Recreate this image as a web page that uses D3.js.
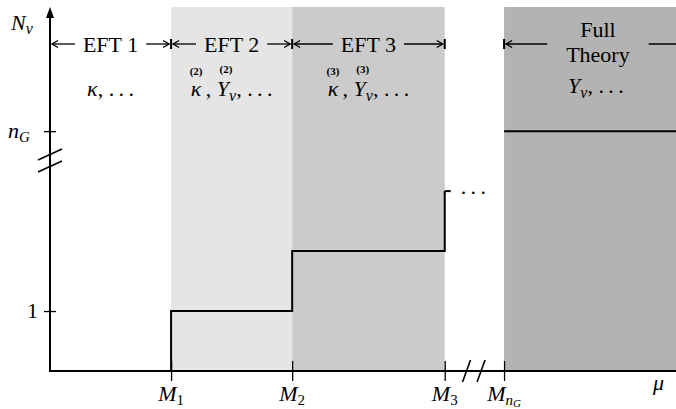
<!DOCTYPE html>
<html>
<head>
<meta charset="utf-8">
<script src="https://cdn.jsdelivr.net/npm/d3@7"></script>
<style>
  body { margin: 0; background: #fff; }
  svg text { font-family: "Liberation Serif", "Times New Roman", serif; fill: #000; }
</style>
</head>
<body>
<svg width="676" height="409"></svg>
<script>
// mass thresholds on the mu axis (arbitrary units, axis is broken after M3)
var thresholdSubs = ["1", "2", "3", "nG"];
var thresholdPos = [1, 2, 3.26, 3.75];
var muMax = 5.17;

// regions
var regionNames = ["EFT 1", "EFT 2", "EFT 3", "Full Theory"];
var regionFrom = [0, 1, 2, 3.75];
var regionTo = [1, 2, 3.26, 5.3];
var regionOrder = ["", "2", "3", ""];
var regionCouplings = [["κ"], ["κ", "Y"], ["κ", "Y"], ["Y"]];

// number of right-handed neutrinos N_nu vs scale
var stepPos = [0, 1, 2, 3.26];
var stepLevel = [0, 1, 2, 3];
var fullLevel = 4;          // n_G, drawn above the axis break
var yTickValues = [1, 4];
var yTickSubs = ["", "G"];
var yTickMain = ["1", "n"];
var yMax = 6.07;

// break marks
var xBreak = [3.44, 3.56];
var yBreak = [3.61, 3.41];

var svg = d3.select("svg"),
    width = +svg.attr("width"),
    height = +svg.attr("height");

var x = d3.scaleLinear().domain([0, muMax]).range([50, width]);
var y = d3.scaleLinear().domain([0, yMax]).range([371, 7]);

var color = d3.scaleOrdinal(regionNames, ["#ffffff", "#e5e5e5", "#cbcbcb", "#b3b3b3"]);

// shaded regions
svg.append("g").selectAll("rect")
    .data(regionNames.map(function(d, i) { return {name: d, from: regionFrom[i], to: Math.min(regionTo[i], muMax)}; }))
    .enter().append("rect")
    .attr("x", function(d) { return x(d.from); })
    .attr("y", y(yMax))
    .attr("width", function(d) { return x(d.to) - x(d.from); })
    .attr("height", y(0) - y(yMax))
    .attr("fill", function(d) { return color(d.name); });

// step line
var line = d3.line()
    .x(function(d) { return x(d[0]); })
    .y(function(d) { return y(d[1]); })
    .curve(d3.curveStepAfter);

var steps = stepPos.map(function(p, i) { return [p, stepLevel[i]]; });
svg.append("path")
    .attr("d", line(steps))
    .attr("fill", "none")
    .attr("stroke", "#000")
    .attr("stroke-width", 2);

var last = steps[steps.length - 1];
svg.append("line")
    .attr("x1", x(last[0])).attr("x2", x(last[0]) + 6)
    .attr("y1", y(last[1])).attr("y2", y(last[1]))
    .attr("stroke", "#000").attr("stroke-width", 2);

svg.append("text")
    .attr("x", x(last[0]) + 16)
    .attr("y", y(last[1]) + 3)
    .style("font-size", "22px")
    .text(".\u2009.\u2009.");

svg.append("line")
    .attr("x1", x(thresholdPos[3])).attr("x2", width)
    .attr("y1", y(fullLevel)).attr("y2", y(fullLevel))
    .attr("stroke", "#000").attr("stroke-width", 2);

// x axis
var xAxis = svg.append("g")
    .attr("transform", "translate(0," + y(0) + ")")
    .call(d3.axisBottom(x).tickValues(thresholdPos).tickSize(10).tickFormat(""));
xAxis.select(".domain").remove();
xAxis.selectAll(".tick line").attr("y1", -10).attr("stroke-width", 1.3);

svg.append("line")
    .attr("x1", x(0)).attr("x2", width)
    .attr("y1", y(0)).attr("y2", y(0))
    .attr("stroke", "#000").attr("stroke-width", 2);

thresholdPos.forEach(function(p, i) {
  var t = svg.append("text")
      .attr("x", x(p))
      .attr("y", 401)
      .attr("text-anchor", "middle")
      .style("font-size", "22px");
  t.append("tspan").style("font-style", "italic").text("M");
  if (thresholdSubs[i] === "nG") {
    t.append("tspan").attr("dy", 4).style("font-size", "15px").style("font-style", "italic").text("n");
    t.append("tspan").attr("dy", 2).style("font-size", "11px").style("font-style", "italic").text("G");
  } else {
    t.append("tspan").attr("dy", 4).style("font-size", "15px").text(thresholdSubs[i]);
  }
});

svg.append("text")
    .attr("x", 653).attr("y", 390)
    .style("font-size", "22px").style("font-style", "italic")
    .text("μ");

// y axis
var yAxis = svg.append("g")
    .attr("transform", "translate(" + x(0) + ",0)")
    .call(d3.axisLeft(y).tickValues(yTickValues).tickSize(6).tickFormat(""));
yAxis.select(".domain").remove();
yAxis.selectAll(".tick line").attr("x1", 6).attr("stroke-width", 1.3);

svg.append("line")
    .attr("x1", x(0)).attr("x2", x(0))
    .attr("y1", y(0) + 1).attr("y2", 16)
    .attr("stroke", "#000").attr("stroke-width", 2);
svg.append("path")
    .attr("d", "M" + x(0) + ",7L" + (x(0) - 4) + ",18L" + (x(0) + 4) + ",18Z")
    .attr("fill", "#000");

yTickValues.forEach(function(v, i) {
  var t = svg.append("text")
      .attr("x", i === 0 ? 38 : 8)
      .attr("y", y(v) + 7)
      .attr("text-anchor", i === 0 ? "end" : "start")
      .style("font-size", "22px");
  t.append("tspan").style("font-style", i === 0 ? "normal" : "italic").text(yTickMain[i]);
  if (yTickSubs[i]) t.append("tspan").attr("dy", 4).style("font-size", "15px").style("font-style", "italic").text(yTickSubs[i]);
});

var yl = svg.append("text").attr("x", 11).attr("y", 30).style("font-size", "22px");
yl.append("tspan").style("font-style", "italic").text("N");
yl.append("tspan").attr("dy", 4).style("font-size", "16px").style("font-style", "italic").text("ν");

// break marks
yBreak.forEach(function(v) {
  svg.append("line")
      .attr("x1", x(0) - 12).attr("y1", y(v) + 5.5)
      .attr("x2", x(0) + 12).attr("y2", y(v) - 5.5)
      .attr("stroke", "#000").attr("stroke-width", 1.6);
});
xBreak.forEach(function(p) {
  svg.append("line")
      .attr("x1", x(p) - 4).attr("y1", y(0) + 11)
      .attr("x2", x(p) + 4).attr("y2", y(0) - 11)
      .attr("stroke", "#000").attr("stroke-width", 1.6);
});

// region headers with arrows
var arrowY = 44;
function arrowHead(g, tip, dir) {
  g.append("path")
      .attr("d", "M" + (tip - dir * 6) + "," + (arrowY - 3.5) + "L" + tip + "," + arrowY + "L" + (tip - dir * 6) + "," + (arrowY + 3.5))
      .attr("fill", "none").attr("stroke", "#000").attr("stroke-width", 1.3);
}

var head = svg.append("g");
thresholdPos.forEach(function(p) {
  head.append("line")
      .attr("x1", x(p)).attr("x2", x(p))
      .attr("y1", arrowY - 5).attr("y2", arrowY + 5)
      .attr("stroke", "#000").attr("stroke-width", 2);
});

regionNames.forEach(function(name, i) {
  var x0 = x(regionFrom[i]), x1 = x(regionTo[i]);
  var cx = (x0 + x1) / 2;
  var lines = name.indexOf("Full") === 0 ? ["Full", "Theory"] : [name];
  var w = 0;
  lines.forEach(function(l, j) {
    var t = head.append("text")
        .attr("x", cx)
        .attr("y", lines.length > 1 ? 37 + j * 25 : 52)
        .attr("text-anchor", "middle")
        .style("font-size", "22px")
        .text(l);
    w = Math.max(w, t.node().getComputedTextLength());
  });
  var pad = lines.length > 1 ? 19 : 8;
  var l0 = x0 + 2, l1 = cx - w / 2 - pad;
  var r0 = cx + w / 2 + pad, r1 = x1 - 2;
  head.append("line").attr("x1", l0).attr("x2", l1).attr("y1", arrowY).attr("y2", arrowY)
      .attr("stroke", "#000").attr("stroke-width", 1.3);
  head.append("line").attr("x1", r0).attr("x2", r1).attr("y1", arrowY).attr("y2", arrowY)
      .attr("stroke", "#000").attr("stroke-width", 1.3);
  arrowHead(head, l0, -1);
  arrowHead(head, r1, 1);

  // couplings row
  var t = head.append("text")
      .attr("x", cx + (i === 3 ? -2 : 0))
      .attr("y", i === 3 ? 93 : 96)
      .attr("text-anchor", "middle")
      .style("font-size", "22px");
  var idx = 0, marks = [];
  regionCouplings[i].forEach(function(c) {
    marks.push(idx);
    t.append("tspan").style("font-style", "italic").text(c);
    idx += 1;
    if (c === "Y") {
      t.append("tspan").attr("dy", 5).style("font-size", "16px").style("font-style", "italic").text("ν");
      t.append("tspan").attr("dy", -5).text(", ");
      idx += 3;
    } else {
      t.append("tspan").text(regionOrder[i] ? "\u2009, " : ", ");
      idx += regionOrder[i] ? 3 : 2;
    }
  });
  t.append("tspan").text(".\u2009.\u2009.");

  if (regionOrder[i]) {
    marks.forEach(function(k, j) {
      var e = t.node().getExtentOfChar(k);
      head.append("text")
          .attr("x", e.x + e.width / 2 + (j === 0 ? 0 : 3))
          .attr("y", j === 0 ? 75 : 73)
          .attr("text-anchor", "middle")
          .style("font-size", "11px")
          .style("font-weight", "bold")
          .text("(" + regionOrder[i] + ")");
    });
  }
});
</script>
</body>
</html>
